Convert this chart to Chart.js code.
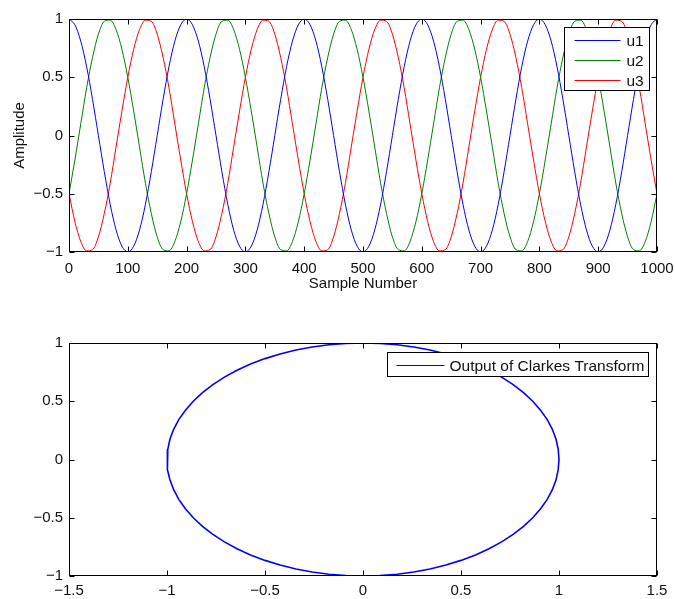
<!DOCTYPE html>
<html>
<head>
<meta charset="utf-8">
<script src="https://cdn.jsdelivr.net/npm/chart.js@4.4.1/dist/chart.umd.min.js"></script>
<style>
  body { margin: 0; background: #fff; }
  canvas { position: absolute; left: 0; }
  #top { top: 0; }
  #bottom { top: 300px; }
</style>
</head>
<body>
<canvas id="top" width="675" height="300"></canvas>
<canvas id="bottom" width="675" height="299"></canvas>
<script>
// --- top plot: three phase signals, read every 10 samples ---
const samples = [
  0, 10, 20, 30, 40, 50, 60, 70, 80, 90, 100, 110, 120, 130, 140, 150, 160, 170, 180, 190,
  200, 210, 220, 230, 240, 250, 260, 270, 280, 290, 300, 310, 320, 330, 340, 350, 360, 370, 380, 390,
  400, 410, 420, 430, 440, 450, 460, 470, 480, 490, 500, 510, 520, 530, 540, 550, 560, 570, 580, 590,
  600, 610, 620, 630, 640, 650, 660, 670, 680, 690, 700, 710, 720, 730, 740, 750, 760, 770, 780, 790,
  800, 810, 820, 830, 840, 850, 860, 870, 880, 890, 900, 910, 920, 930, 940, 950, 960, 970, 980, 990,
  1000
];
const u1 = [
  1, 0.95, 0.81, 0.59, 0.31, 0, -0.31, -0.59, -0.81, -0.95, -1, -0.95, -0.81, -0.59, -0.31, 0, 0.31, 0.59, 0.81, 0.95,
  1, 0.95, 0.81, 0.59, 0.31, 0, -0.31, -0.59, -0.81, -0.95, -1, -0.95, -0.81, -0.59, -0.31, 0, 0.31, 0.59, 0.81, 0.95,
  1, 0.95, 0.81, 0.59, 0.31, 0, -0.31, -0.59, -0.81, -0.95, -1, -0.95, -0.81, -0.59, -0.31, 0, 0.31, 0.59, 0.81, 0.95,
  1, 0.95, 0.81, 0.59, 0.31, 0, -0.31, -0.59, -0.81, -0.95, -1, -0.95, -0.81, -0.59, -0.31, 0, 0.31, 0.59, 0.81, 0.95,
  1, 0.95, 0.81, 0.59, 0.31, 0, -0.31, -0.59, -0.81, -0.95, -1, -0.95, -0.81, -0.59, -0.31, 0, 0.31, 0.59, 0.81, 0.95,
  1
];
const u2 = [
  -0.5, -0.21, 0.1, 0.41, 0.67, 0.87, 0.98, 0.99, 0.91, 0.74, 0.5, 0.21, -0.1, -0.41, -0.67, -0.87, -0.98, -0.99, -0.91, -0.74,
  -0.5, -0.21, 0.1, 0.41, 0.67, 0.87, 0.98, 0.99, 0.91, 0.74, 0.5, 0.21, -0.1, -0.41, -0.67, -0.87, -0.98, -0.99, -0.91, -0.74,
  -0.5, -0.21, 0.1, 0.41, 0.67, 0.87, 0.98, 0.99, 0.91, 0.74, 0.5, 0.21, -0.1, -0.41, -0.67, -0.87, -0.98, -0.99, -0.91, -0.74,
  -0.5, -0.21, 0.1, 0.41, 0.67, 0.87, 0.98, 0.99, 0.91, 0.74, 0.5, 0.21, -0.1, -0.41, -0.67, -0.87, -0.98, -0.99, -0.91, -0.74,
  -0.5, -0.21, 0.1, 0.41, 0.67, 0.87, 0.98, 0.99, 0.91, 0.74, 0.5, 0.21, -0.1, -0.41, -0.67, -0.87, -0.98, -0.99, -0.91, -0.74,
  -0.5
];
const u3 = [
  -0.5, -0.74, -0.91, -0.99, -0.98, -0.87, -0.67, -0.41, -0.1, 0.21, 0.5, 0.74, 0.91, 0.99, 0.98, 0.87, 0.67, 0.41, 0.1, -0.21,
  -0.5, -0.74, -0.91, -0.99, -0.98, -0.87, -0.67, -0.41, -0.1, 0.21, 0.5, 0.74, 0.91, 0.99, 0.98, 0.87, 0.67, 0.41, 0.1, -0.21,
  -0.5, -0.74, -0.91, -0.99, -0.98, -0.87, -0.67, -0.41, -0.1, 0.21, 0.5, 0.74, 0.91, 0.99, 0.98, 0.87, 0.67, 0.41, 0.1, -0.21,
  -0.5, -0.74, -0.91, -0.99, -0.98, -0.87, -0.67, -0.41, -0.1, 0.21, 0.5, 0.74, 0.91, 0.99, 0.98, 0.87, 0.67, 0.41, 0.1, -0.21,
  -0.5, -0.74, -0.91, -0.99, -0.98, -0.87, -0.67, -0.41, -0.1, 0.21, 0.5, 0.74, 0.91, 0.99, 0.98, 0.87, 0.67, 0.41, 0.1, -0.21,
  -0.5
];

// --- bottom plot: alpha / beta output, read every 5 degrees ---
const alpha = [
  1, 0.996, 0.985, 0.966, 0.94, 0.906, 0.866, 0.819, 0.766, 0.707, 0.643, 0.574, 0.5, 0.423, 0.342, 0.259, 0.174, 0.087, 0,
  -0.087, -0.174, -0.259, -0.342, -0.423, -0.5, -0.574, -0.643, -0.707, -0.766, -0.819, -0.866, -0.906, -0.94, -0.966, -0.985, -0.996, -1,
  -0.996, -0.985, -0.966, -0.94, -0.906, -0.866, -0.819, -0.766, -0.707, -0.643, -0.574, -0.5, -0.423, -0.342, -0.259, -0.174, -0.087, 0,
  0.087, 0.174, 0.259, 0.342, 0.423, 0.5, 0.574, 0.643, 0.707, 0.766, 0.819, 0.866, 0.906, 0.94, 0.966, 0.985, 0.996, 1
];
const beta = [
  0, 0.087, 0.174, 0.259, 0.342, 0.423, 0.5, 0.574, 0.643, 0.707, 0.766, 0.819, 0.866, 0.906, 0.94, 0.966, 0.985, 0.996, 1,
  0.996, 0.985, 0.966, 0.94, 0.906, 0.866, 0.819, 0.766, 0.707, 0.643, 0.574, 0.5, 0.423, 0.342, 0.259, 0.174, 0.087, 0,
  -0.087, -0.174, -0.259, -0.342, -0.423, -0.5, -0.574, -0.643, -0.707, -0.766, -0.819, -0.866, -0.906, -0.94, -0.966, -0.985, -0.996, -1,
  -0.996, -0.985, -0.966, -0.94, -0.906, -0.866, -0.819, -0.766, -0.707, -0.643, -0.574, -0.5, -0.423, -0.342, -0.259, -0.174, -0.087, 0
];

// tick labels
const xTicksTop = ['0', '100', '200', '300', '400', '500', '600', '700', '800', '900', '1000'];
const xTicksBottom = ['\u22121.5', '\u22121', '\u22120.5', '0', '0.5', '1', '1.5'];
const yTicks = ['\u22121', '\u22120.5', '0', '0.5', '1'];

const FONT = "'Liberation Sans', Arial, Helvetica, sans-serif";
const INK = '#111';

// MATLAB style box: frame, inward ticks on all sides, boxed legend
const boxPlugin = {
  id: 'box',
  afterDraw(chart, args, opts) {
    const ctx = chart.ctx;
    const a = chart.chartArea;
    const xs = chart.scales.x, ys = chart.scales.y;
    const L = Math.round(a.left) + 0.5, R = Math.round(a.right) - 0.5;
    const T = Math.round(a.top) + 0.5, B = Math.round(a.bottom) - 0.5;
    ctx.save();
    ctx.strokeStyle = '#000';
    ctx.lineWidth = 1;
    ctx.beginPath();
    xs.ticks.forEach((t, i) => {
      const px = Math.round(xs.getPixelForTick(i)) + 0.5;
      ctx.moveTo(px, B); ctx.lineTo(px, B - 5);
      ctx.moveTo(px, T); ctx.lineTo(px, T + 5);
    });
    ys.ticks.forEach((t, i) => {
      const py = Math.round(ys.getPixelForTick(i)) + 0.5;
      ctx.moveTo(L, py); ctx.lineTo(L + 5, py);
      ctx.moveTo(R, py); ctx.lineTo(R - 5, py);
    });
    ctx.stroke();
    ctx.strokeRect(L, T, R - L, B - T);

    // legend
    const lg = opts.legend;
    const sets = chart.data.datasets;
    ctx.font = lg.fontSize + 'px ' + FONT;
    const textW = Math.max(...sets.map(d => ctx.measureText(d.label).width));
    const w = Math.round(lg.padLeft + lg.lineLen + lg.gap + textW + lg.padRight);
    const h = lg.padTop + lg.rowH * (sets.length - 1) + lg.padBottom;
    const bx = Math.round(a.right) - lg.offRight - w + 0.5;
    const by = Math.round(a.top) + lg.offTop + 0.5;
    ctx.fillStyle = '#fff';
    ctx.fillRect(bx, by, w, h);
    ctx.strokeRect(bx, by, w, h);
    ctx.textBaseline = 'middle';
    ctx.textAlign = 'left';
    sets.forEach((d, i) => {
      const ry = Math.round(by + lg.padTop + i * lg.rowH) + 0.5;
      ctx.strokeStyle = d.borderColor;
      ctx.beginPath();
      ctx.moveTo(bx + lg.padLeft, ry);
      ctx.lineTo(bx + lg.padLeft + lg.lineLen, ry);
      ctx.stroke();
      ctx.fillStyle = INK;
      ctx.fillText(d.label, bx + lg.padLeft + lg.lineLen + lg.gap, ry + 1);
    });
    ctx.restore();
  }
};

function xy(xv, yv) {
  return xv.map((v, i) => ({ x: v, y: yv[i] }));
}

function axis(min, max, step, labels, width, height, tickPad, title, titlePad) {
  return {
    type: 'linear',
    min: min,
    max: max,
    grid: { display: false, tickLength: 0 },
    border: { display: false },
    ticks: {
      stepSize: step,
      autoSkip: false,
      maxRotation: 0,
      padding: tickPad,
      color: INK,
      font: { family: FONT, size: 15 },
      callback: (v, i) => labels[i]
    },
    title: {
      display: !!title,
      text: title || '',
      color: INK,
      font: { family: FONT, size: 15 },
      padding: titlePad || 0
    },
    afterFit: (s) => {
      if (width) s.width = width;
      if (height) s.height = height;
      s.paddingLeft = 0; s.paddingRight = 0;
      s.paddingTop = 0; s.paddingBottom = 0;
    }
  };
}

const lineStyle = { borderWidth: 1, pointRadius: 0, showLine: true, fill: false };

new Chart(document.getElementById('top'), {
  type: 'scatter',
  data: {
    datasets: [
      Object.assign({ label: 'u1', data: xy(samples, u1), borderColor: '#0000ff', cubicInterpolationMode: 'monotone' }, lineStyle),
      Object.assign({ label: 'u2', data: xy(samples, u2), borderColor: '#008000', cubicInterpolationMode: 'monotone' }, lineStyle),
      Object.assign({ label: 'u3', data: xy(samples, u3), borderColor: '#ff0000', cubicInterpolationMode: 'monotone' }, lineStyle)
    ]
  },
  options: {
    responsive: false,
    animation: false,
    devicePixelRatio: 1,
    layout: { padding: { top: 19, right: 18, left: 0, bottom: 0 } },
    scales: {
      x: axis(0, 1000, 100, xTicksTop, 0, 48, 8, 'Sample Number', { top: 0, bottom: 7 }),
      y: axis(-1, 1, 0.5, yTicks, 69, 0, 6, 'Amplitude', { top: 11, bottom: 0 })
    },
    plugins: {
      legend: { display: false },
      tooltip: { enabled: false },
      box: { legend: { fontSize: 15.5, offRight: 8, offTop: 8, padLeft: 10, lineLen: 46, gap: 6, padRight: 6, padTop: 12, rowH: 20, padBottom: 11 } }
    }
  },
  plugins: [boxPlugin]
});

new Chart(document.getElementById('bottom'), {
  type: 'scatter',
  data: {
    datasets: [
      Object.assign({}, lineStyle, { label: 'Output of Clarkes Transform', data: xy(alpha, beta), borderColor: '#0000ff', borderWidth: 1.6 })
    ]
  },
  options: {
    responsive: false,
    animation: false,
    devicePixelRatio: 1,
    layout: { padding: { top: 43, right: 18, left: 0, bottom: 0 } },
    scales: {
      x: axis(-1.5, 1.5, 0.5, xTicksBottom, 0, 23, 6),
      y: axis(-1, 1, 0.5, yTicks, 69, 0, 6)
    },
    plugins: {
      legend: { display: false },
      tooltip: { enabled: false },
      box: { legend: { fontSize: 15.5, offRight: 9, offTop: 9, padLeft: 9, lineLen: 48, gap: 5, padRight: 4, padTop: 12, rowH: 20, padBottom: 12 } }
    }
  },
  plugins: [boxPlugin]
});
</script>
</body>
</html>
